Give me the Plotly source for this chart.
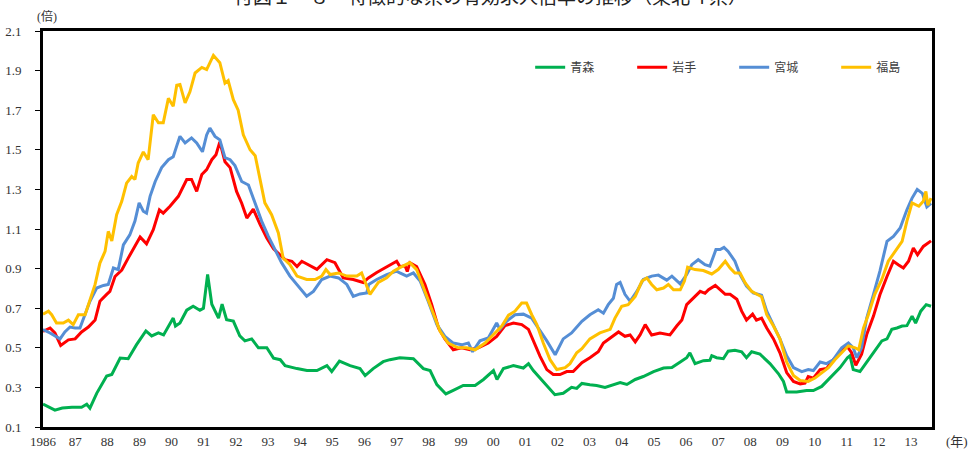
import plotly.graph_objects as go

# (decimal year, ratio) values
AOMORI = [(1986.0,0.216),(1986.37,0.185),(1986.6,0.196),(1986.9,0.2),(1987.2,0.2),(1987.36,0.215),(1987.46,0.195),
          (1987.67,0.27),(1987.98,0.357),(1988.14,0.365),(1988.4,0.448),(1988.65,0.445),(1988.91,0.516),(1989.2,0.585),
          (1989.38,0.56),(1989.59,0.575),(1989.75,0.565),(1989.9,0.61),(1990.05,0.65),(1990.12,0.61),(1990.26,0.625),
          (1990.47,0.69),(1990.67,0.71),(1990.88,0.69),(1990.99,0.70),(1991.12,0.87),(1991.25,0.72),(1991.46,0.65),
          (1991.57,0.72),(1991.71,0.642),(1991.92,0.635),(1992.12,0.56),(1992.28,0.535),(1992.49,0.545),(1992.7,0.50),
          (1992.96,0.50),(1993.17,0.448),(1993.38,0.44),(1993.53,0.41),(1993.9,0.395),(1994.21,0.385),(1994.52,0.385),
          (1994.83,0.41),(1994.98,0.38),(1995.22,0.433),(1995.55,0.41),(1995.86,0.395),(1996.02,0.36),(1996.27,0.395),
          (1996.58,0.43),(1996.79,0.44),(1997.1,0.45),(1997.52,0.445),(1997.83,0.395),(1998.04,0.385),(1998.25,0.314),
          (1998.53,0.267),(1998.76,0.285),(1999.07,0.31),(1999.44,0.31),(1999.7,0.34),(2000.01,0.385),(2000.12,0.34),
          (2000.32,0.395),(2000.63,0.41),(2000.94,0.398),(2001.1,0.42),(2001.25,0.385),(2001.56,0.33),(2001.92,0.263),
          (2002.18,0.27),(2002.44,0.30),(2002.6,0.295),(2002.76,0.32),(2003.01,0.313),(2003.22,0.31),(2003.48,0.30),
          (2003.74,0.313),(2003.95,0.325),(2004.16,0.315),(2004.42,0.34),(2004.67,0.355),(2004.99,0.38),(2005.3,0.398),
          (2005.56,0.40),(2005.82,0.428),(2006.02,0.45),(2006.12,0.474),(2006.28,0.42),(2006.54,0.435),(2006.74,0.437),
          (2006.8,0.46),(2006.95,0.45),(2007.16,0.445),(2007.31,0.483),(2007.52,0.487),(2007.73,0.48),(2007.88,0.45),
          (2008.04,0.48),(2008.3,0.468),(2008.61,0.42),(2008.87,0.37),(2009.03,0.33),(2009.13,0.277),(2009.44,0.277),
          (2009.75,0.284),(2009.96,0.284),(2010.22,0.305),(2010.48,0.347),(2010.79,0.40),(2011.02,0.45),(2011.1,0.46),
          (2011.2,0.39),(2011.41,0.38),(2011.62,0.428),(2011.83,0.475),(2012.09,0.535),(2012.25,0.545),(2012.4,0.593),
          (2012.56,0.60),(2012.72,0.61),(2012.87,0.612),(2013.03,0.66),(2013.14,0.625),(2013.3,0.685),(2013.47,0.718),
          (2013.62,0.71)]

IWATE = [(1986.0,0.583),(1986.22,0.60),(1986.37,0.575),(1986.55,0.512),(1986.79,0.54),(1987.0,0.545),(1987.2,0.58),
         (1987.41,0.605),(1987.62,0.64),(1987.77,0.735),(1987.98,0.77),(1988.08,0.785),(1988.24,0.86),(1988.45,0.893),
         (1988.65,0.953),(1988.86,1.012),(1989.02,1.06),(1989.22,1.025),(1989.43,1.097),(1989.62,1.197),(1989.74,1.18),
         (1989.95,1.215),(1990.21,1.265),(1990.47,1.35),(1990.62,1.35),(1990.78,1.29),(1990.94,1.375),(1991.09,1.40),
         (1991.25,1.45),(1991.38,1.475),(1991.5,1.54),(1991.66,1.44),(1991.82,1.41),(1992.02,1.29),(1992.18,1.23),
         (1992.34,1.155),(1992.54,1.2),(1992.75,1.123),(1992.96,1.055),(1993.17,1.0),(1993.37,0.97),(1993.53,0.945),
         (1993.74,0.937),(1993.9,0.91),(1994.05,0.937),(1994.26,0.92),(1994.52,0.896),(1994.83,0.945),(1995.08,0.93),
         (1995.34,0.853),(1995.65,0.845),(1995.96,0.83),(1996.12,0.853),(1996.38,0.88),(1996.69,0.91),(1997.0,0.937),
         (1997.1,0.91),(1997.26,0.915),(1997.33,0.885),(1997.41,0.93),(1997.62,0.91),(1997.88,0.82),(1998.09,0.718),
         (1998.3,0.60),(1998.5,0.545),(1998.76,0.49),(1999.02,0.50),(1999.28,0.49),(1999.54,0.50),(1999.85,0.524),
         (2000.11,0.558),(2000.37,0.612),(2000.63,0.625),(2000.89,0.617),(2001.1,0.593),(2001.25,0.535),(2001.46,0.457),
         (2001.67,0.39),(2001.87,0.365),(2002.08,0.365),(2002.29,0.38),(2002.49,0.38),(2002.76,0.425),(2003.01,0.45),
         (2003.27,0.48),(2003.43,0.524),(2003.64,0.55),(2003.9,0.58),(2004.1,0.558),(2004.26,0.565),(2004.42,0.53),
         (2004.57,0.565),(2004.73,0.617),(2004.93,0.565),(2005.19,0.575),(2005.5,0.565),(2005.71,0.61),(2005.87,0.64),
         (2006.02,0.718),(2006.23,0.75),(2006.44,0.785),(2006.59,0.775),(2006.7,0.793),(2006.91,0.815),(2007.06,0.793),
         (2007.22,0.77),(2007.37,0.77),(2007.58,0.745),(2007.73,0.685),(2007.88,0.64),(2008.07,0.67),(2008.19,0.64),
         (2008.35,0.65),(2008.51,0.60),(2008.72,0.545),(2008.92,0.475),(2009.13,0.375),(2009.34,0.33),(2009.55,0.318),
         (2009.7,0.322),(2009.8,0.355),(2009.96,0.347),(2010.17,0.39),(2010.37,0.395),(2010.58,0.44),(2010.79,0.475),
         (2011.0,0.51),(2011.15,0.475),(2011.28,0.412),(2011.46,0.468),(2011.62,0.567),(2011.83,0.66),(2012.03,0.768),
         (2012.25,0.86),(2012.45,0.937),(2012.6,0.92),(2012.76,0.903),(2012.92,0.937),(2013.07,1.004),(2013.2,0.97),
         (2013.38,1.012),(2013.62,1.04)]

MIYAGI = [(1986.0,0.592),(1986.22,0.575),(1986.53,0.545),(1986.68,0.58),(1986.84,0.605),(1987.0,0.6),(1987.15,0.6),
          (1987.31,0.667),(1987.46,0.735),(1987.67,0.802),(1987.88,0.815),(1988.03,0.82),(1988.19,0.903),(1988.34,0.895),
          (1988.5,1.02),(1988.7,1.07),(1988.86,1.14),(1988.99,1.232),(1989.12,1.19),(1989.22,1.18),(1989.33,1.265),
          (1989.49,1.34),(1989.69,1.41),(1989.9,1.45),(1990.05,1.465),(1990.16,1.52),(1990.26,1.568),(1990.42,1.535),
          (1990.62,1.56),(1990.78,1.535),(1990.96,1.49),(1991.09,1.575),(1991.19,1.61),(1991.35,1.568),(1991.5,1.55),
          (1991.66,1.46),(1991.82,1.45),(1991.97,1.42),(1992.18,1.34),(1992.39,1.322),(1992.6,1.23),(1992.8,1.14),
          (1993.01,1.063),(1993.22,0.997),(1993.42,0.93),(1993.68,0.862),(1993.94,0.812),(1994.2,0.76),(1994.41,0.785),
          (1994.67,0.845),(1994.93,0.862),(1995.19,0.853),(1995.45,0.82),(1995.65,0.76),(1995.86,0.772),(1996.07,0.777),
          (1996.13,0.82),(1996.38,0.845),(1996.69,0.87),(1997.0,0.887),(1997.1,0.878),(1997.31,0.862),(1997.52,0.878),
          (1997.73,0.837),(1997.98,0.735),(1998.25,0.617),(1998.5,0.558),(1998.76,0.524),(1999.02,0.515),(1999.23,0.524),
          (1999.36,0.48),(1999.59,0.535),(1999.85,0.55),(2000.11,0.625),(2000.21,0.593),(2000.42,0.634),(2000.68,0.667),
          (2000.94,0.67),(2001.2,0.65),(2001.41,0.6),(2001.67,0.535),(2001.93,0.465),(2002.18,0.545),(2002.44,0.575),
          (2002.76,0.634),(2003.01,0.667),(2003.27,0.692),(2003.43,0.675),(2003.58,0.718),(2003.74,0.75),(2003.84,0.82),
          (2003.95,0.83),(2004.1,0.77),(2004.26,0.735),(2004.47,0.785),(2004.67,0.845),(2004.93,0.862),(2005.14,0.867),
          (2005.4,0.842),(2005.56,0.862),(2005.82,0.823),(2006.02,0.87),(2006.18,0.92),(2006.38,0.945),(2006.59,0.92),
          (2006.74,0.912),(2006.93,0.996),(2007.06,0.996),(2007.18,1.007),(2007.31,0.987),(2007.52,0.937),(2007.68,0.87),
          (2007.88,0.812),(2008.09,0.777),(2008.35,0.765),(2008.51,0.685),(2008.72,0.617),(2008.92,0.545),(2009.13,0.46),
          (2009.34,0.40),(2009.6,0.38),(2009.8,0.39),(2009.96,0.385),(2010.17,0.428),(2010.37,0.42),(2010.58,0.44),
          (2010.84,0.5),(2011.05,0.524),(2011.2,0.5),(2011.31,0.45),(2011.46,0.5),(2011.62,0.65),(2011.83,0.77),
          (2012.03,0.887),(2012.25,1.038),(2012.45,1.063),(2012.66,1.105),(2012.87,1.197),(2013.03,1.256),(2013.19,1.3),
          (2013.35,1.28),(2013.49,1.212),(2013.62,1.23)]

FUKUSHIMA = [(1986.0,0.67),(1986.17,0.685),(1986.27,0.667),(1986.42,0.625),(1986.63,0.625),(1986.79,0.64),(1986.94,0.617),
             (1987.1,0.667),(1987.31,0.667),(1987.46,0.743),(1987.62,0.82),(1987.77,0.928),(1987.93,0.987),(1988.03,1.088),
             (1988.14,1.04),(1988.29,1.172),(1988.45,1.24),(1988.6,1.332),(1988.76,1.365),(1988.86,1.35),(1988.96,1.433),
             (1989.12,1.489),(1989.27,1.45),(1989.43,1.677),(1989.59,1.636),(1989.74,1.636),(1989.9,1.76),(1990.05,1.72),
             (1990.16,1.826),(1990.26,1.83),(1990.42,1.737),(1990.57,1.793),(1990.73,1.888),(1990.94,1.916),(1991.09,1.905),
             (1991.3,1.977),(1991.5,1.94),(1991.66,1.837),(1991.76,1.85),(1991.92,1.753),(1992.07,1.7),(1992.23,1.576),
             (1992.44,1.5),(1992.6,1.47),(1992.75,1.35),(1992.9,1.232),(1993.11,1.172),(1993.32,1.08),(1993.47,0.953),
             (1993.68,0.92),(1993.9,0.862),(1994.2,0.845),(1994.46,0.845),(1994.67,0.862),(1994.8,0.895),(1994.93,0.87),
             (1995.19,0.878),(1995.45,0.862),(1995.76,0.862),(1995.91,0.878),(1996.17,0.77),(1996.43,0.83),(1996.69,0.853),
             (1996.9,0.887),(1997.1,0.905),(1997.41,0.93),(1997.62,0.895),(1997.88,0.785),(1998.14,0.667),(1998.35,0.583),
             (1998.6,0.524),(1998.91,0.5),(1999.17,0.5),(1999.44,0.49),(1999.75,0.524),(2000.01,0.566),(2000.27,0.61),
             (2000.48,0.665),(2000.68,0.685),(2000.89,0.726),(2001.04,0.726),(2001.2,0.667),(2001.36,0.617),(2001.56,0.524),
             (2001.77,0.44),(2001.98,0.39),(2002.24,0.40),(2002.39,0.42),(2002.6,0.475),(2002.76,0.495),(2003.01,0.545),
             (2003.32,0.575),(2003.64,0.593),(2003.79,0.65),(2004.0,0.71),(2004.2,0.718),(2004.42,0.76),(2004.63,0.837),
             (2004.78,0.853),(2004.93,0.82),(2005.09,0.793),(2005.3,0.802),(2005.45,0.82),(2005.61,0.793),(2005.82,0.793),
             (2005.95,0.837),(2006.05,0.907),(2006.28,0.895),(2006.54,0.89),(2006.8,0.873),(2007.0,0.895),(2007.22,0.937),
             (2007.37,0.903),(2007.52,0.878),(2007.68,0.878),(2007.84,0.828),(2008.04,0.785),(2008.35,0.758),(2008.51,0.667),
             (2008.72,0.61),(2008.92,0.545),(2009.13,0.428),(2009.34,0.36),(2009.55,0.335),(2009.8,0.33),(2010.01,0.347),
             (2010.22,0.372),(2010.43,0.40),(2010.63,0.44),(2010.84,0.475),(2011.05,0.51),(2011.26,0.5),(2011.37,0.49),
             (2011.52,0.6),(2011.67,0.667),(2011.87,0.77),(2012.09,0.845),(2012.29,0.937),(2012.5,0.987),(2012.72,1.038),
             (2012.87,1.14),(2013.03,1.232),(2013.24,1.215),(2013.38,1.24),(2013.46,1.29),(2013.52,1.22),(2013.62,1.256)]

SERIES_NAMES = ["青森", "岩手", "宮城", "福島"]
SERIES_COLORS = ["#00B050", "#FF0000", "#558ED5", "#FFC000"]
YEAR_TICKS = list(range(1986, 2014))
YEAR_LABELS = ["1986"] + [f"{y % 100:02d}" for y in range(1987, 2014)]
Y_TICKS = [0.1, 0.3, 0.5, 0.7, 0.9, 1.1, 1.3, 1.5, 1.7, 1.9, 2.1]

TITLE = "付図１－８　特徴的な県の有効求人倍率の推移（東北４県）"

fig = go.Figure()
for name, color, data in zip(SERIES_NAMES, SERIES_COLORS, [AOMORI, IWATE, MIYAGI, FUKUSHIMA]):
    xs = [p[0] for p in data]
    ys = [p[1] for p in data]
    fig.add_trace(go.Scatter(x=xs, y=ys, mode="lines", name=name,
                             line=dict(color=color, width=3)))

serif = "Liberation Serif, DejaVu Serif, serif"
fig.update_layout(
    width=973, height=453,
    margin=dict(l=43, r=41, t=31, b=26),
    paper_bgcolor="white", plot_bgcolor="white",
    showlegend=True,
    legend=dict(orientation="h", x=0.548, xanchor="left", y=0.945, yanchor="top",
                font=dict(family="Noto Sans CJK JP", size=12, color="#404040"),
                entrywidth=57, entrywidthmode="pixels",
                bgcolor="rgba(0,0,0,0)", traceorder="normal"),
    xaxis=dict(range=[1986, 2013.65], tickmode="array", tickvals=YEAR_TICKS, ticktext=YEAR_LABELS,
               showgrid=False, zeroline=False, showline=True, linecolor="black", linewidth=3,
               mirror=True, ticks="", ticklabelstandoff=0, automargin=False,
               tickfont=dict(family=serif, size=13, color="#333333")),
    yaxis=dict(range=[0.1, 2.1], tickmode="array", tickvals=Y_TICKS,
               ticktext=[f"{v:.1f}" for v in Y_TICKS],
               showgrid=False, zeroline=False, showline=True, linecolor="black", linewidth=3,
               mirror=True, ticks="outside", ticklen=5, tickcolor="black", tickwidth=1,
               ticklabelstandoff=11, automargin=False,
               tickfont=dict(family=serif, size=13, color="#333333")),
    annotations=[
        dict(text=TITLE, xref="paper", yref="paper", x=0.503, y=1.0505, xanchor="center", yanchor="bottom",
             showarrow=False, font=dict(family="Noto Sans CJK JP", size=19, color="#222222")),
        dict(text="(倍)", xref="paper", yref="paper", x=0.004, y=1.037, xanchor="center", yanchor="middle",
             showarrow=False, font=dict(family=serif + ", Noto Sans CJK JP", size=12, color="#333333")),
        dict(text="(年)", xref="paper", yref="paper", x=1.028, y=-0.036, xanchor="center", yanchor="middle",
             showarrow=False, font=dict(family=serif + ", Noto Sans CJK JP", size=13, color="#333333")),
    ],
)

fig.write_html("out.html", config={"displayModeBar": False},
               post_script="document.body.style.margin='0';document.body.style.overflow='hidden';")
